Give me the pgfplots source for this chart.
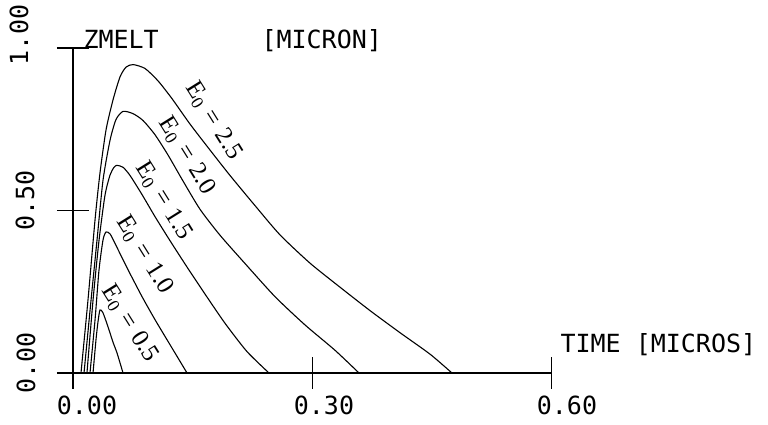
\documentclass[border=0pt]{standalone}
\usepackage{fontspec}
\usepackage{pgfplots}
\pgfplotsset{compat=1.18}
\newfontfamily\plotfont{DejaVu Sans Mono}
\newfontfamily\serifl{Liberation Serif}
\newcommand{\lab}[1]{{\serifl E\textsubscript{0}\hspace{0.33em}=\hspace{0.33em}#1}}
\tikzset{crv/.style={black, line width=1.1pt, smooth, tension=0.4, mark=none},
  pf/.style={font=\plotfont\fontsize{25}{25}\selectfont},
  el/.style={rotate=-58, font=\fontsize{25}{25}\selectfont}}
\begin{document}
\begin{tikzpicture}
\useasboundingbox (-73pt,-52pt) rectangle (695pt,373pt);
\begin{axis}[
  scale only axis, width=478.8pt, height=325pt,
  xmin=0, xmax=0.6, ymin=0, ymax=1,
  axis x line=bottom, axis y line=left,
  axis line style={-, line width=1.1pt, black},
  xtick={0,0.3,0.6}, ytick={0,0.5,1},
  xticklabels={}, yticklabels={},
  tick align=center, major tick length=32pt,
  tick style={line width=1.1pt, black},
  clip=false,
  every node/.append style={inner sep=0pt},
]
% E0 = 2.5
\addplot[crv] coordinates {(0.0100,0) (0.0188,0.225) (0.0276,0.471) (0.0338,0.615) (0.0414,0.748) (0.0501,0.840) (0.0589,0.911) (0.0664,0.941) (0.0752,0.949) (0.0902,0.937) (0.1065,0.899) (0.1241,0.844) (0.1466,0.766) (0.1717,0.686) (0.1967,0.608) (0.2281,0.515) (0.2594,0.425) (0.2970,0.338) (0.3346,0.264) (0.3722,0.192) (0.4098,0.124) (0.4474,0.058) (0.4749,0)};
% E0 = 2.0
\addplot[crv] coordinates {(0.0138,0) (0.0226,0.224) (0.0301,0.409) (0.0376,0.593) (0.0464,0.716) (0.0539,0.780) (0.0627,0.805) (0.0752,0.798) (0.0877,0.777) (0.1028,0.733) (0.1190,0.671) (0.1378,0.591) (0.1591,0.504) (0.1842,0.424) (0.2155,0.337) (0.2531,0.235) (0.2907,0.148) (0.3283,0.070) (0.3584,0)};
% E0 = 1.5
\addplot[crv] coordinates {(0.0175,0) (0.0251,0.224) (0.0326,0.408) (0.0401,0.547) (0.0464,0.609) (0.0514,0.633) (0.0551,0.639) (0.0627,0.633) (0.0714,0.608) (0.0865,0.549) (0.1028,0.481) (0.1216,0.407) (0.1429,0.326) (0.1654,0.243) (0.1905,0.153) (0.2180,0.066) (0.2456,0)};
% E0 = 1.0
\addplot[crv] coordinates {(0.0213,0) (0.0276,0.163) (0.0326,0.317) (0.0376,0.409) (0.0414,0.434) (0.0464,0.428) (0.0514,0.405) (0.0564,0.380) (0.0689,0.318) (0.0865,0.235) (0.1028,0.164) (0.1216,0.087) (0.1429,0)};
% E0 = 0.5
\addplot[crv] coordinates {(0.0251,0) (0.0288,0.102) (0.0313,0.157) (0.0338,0.194) (0.0376,0.185) (0.0439,0.142) (0.0501,0.095) (0.0551,0.062) (0.0627,0)};
% texts
\node[anchor=base west, pf] at (axis cs:0.00877,0.997) {ZMELT};
\node[anchor=base west, pf] at (axis cs:0.2318,0.997) {[MICRON]};
\node[anchor=base west, pf] at (axis cs:0.6065,0.0646) {TIME [MICROS]};
\node[anchor=base, pf] at (axis cs:0.0175,-0.129) {0.00};
\node[anchor=base, pf] at (axis cs:0.3145,-0.129) {0.30};
\node[anchor=base, pf] at (axis cs:0.619,-0.129) {0.60};
\node[rotate=90, pf] at (axis cs:-0.0589,0.0308) {0.00};
\node[rotate=90, pf] at (axis cs:-0.0602,0.532) {0.50};
\node[rotate=90, pf] at (axis cs:-0.0677,1.040) {1.00};
\node[el] at (axis cs:0.1760,0.775) {\lab{2.5}};
\node[el] at (axis cs:0.1430,0.668) {\lab{2.0}};
\node[el] at (axis cs:0.1140,0.529) {\lab{1.5}};
\node[el] at (axis cs:0.0900,0.363) {\lab{1.0}};
\node[el] at (axis cs:0.0712,0.152) {\lab{0.5}};
\end{axis}
\end{tikzpicture}
\end{document}
